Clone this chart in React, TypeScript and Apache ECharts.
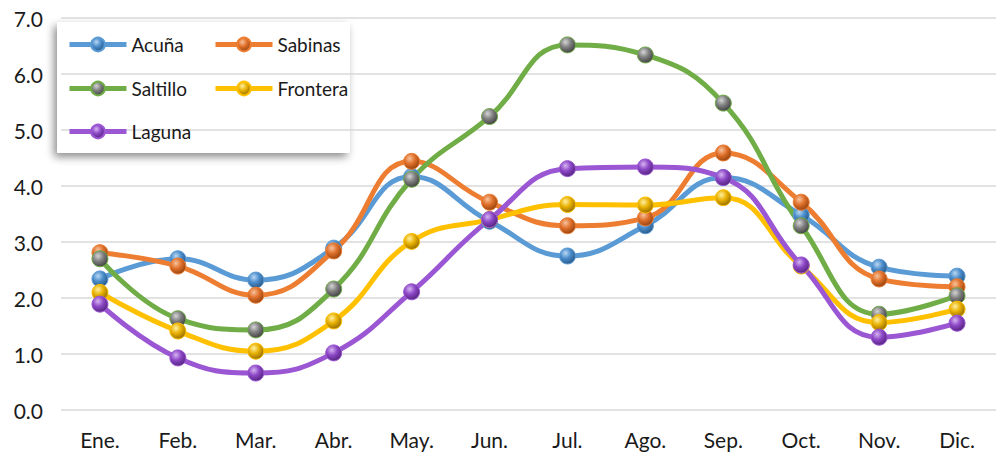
import React, { useEffect, useRef } from "react";
import * as echarts from "echarts";

const months = ["Ene.", "Feb.", "Mar.", "Abr.", "May.", "Jun.", "Jul.", "Ago.", "Sep.", "Oct.", "Nov.", "Dic."];
const acuna = [2.34, 2.7, 2.32, 2.89, 4.17, 3.37, 2.75, 3.29, 4.15, 3.48, 2.55, 2.39];
const sabinas = [2.81, 2.57, 2.05, 2.84, 4.44, 3.71, 3.29, 3.43, 4.59, 3.71, 2.34, 2.2];
const saltillo = [2.7, 1.63, 1.43, 2.16, 4.12, 5.24, 6.52, 6.34, 5.48, 3.29, 1.71, 2.04];
const frontera = [2.1, 1.41, 1.05, 1.59, 3.01, 3.4, 3.67, 3.66, 3.79, 2.57, 1.56, 1.8];
const laguna = [1.89, 0.93, 0.66, 1.02, 2.11, 3.4, 4.31, 4.34, 4.15, 2.59, 1.3, 1.55];

const FONT = "Lato, 'Open Sans', sans-serif";

function sphere(light: string, base: string, dark: string) {
  return {
    type: "radial",
    x: 0.38,
    y: 0.32,
    r: 0.75,
    colorStops: [
      { offset: 0, color: light },
      { offset: 0.45, color: base },
      { offset: 1, color: dark },
    ],
  } as any;
}

const seriesDefs = [
  { name: "Acuña", data: acuna, line: "#5B9BD5", marker: sphere("#b9d7f2", "#4a8ccb", "#24527e"), border: "#5B9BD5" },
  { name: "Sabinas", data: sabinas, line: "#ED7D31", marker: sphere("#f8c29c", "#e0702a", "#8c3d0c"), border: "#ED7D31" },
  { name: "Saltillo", data: saltillo, line: "#70AD47", marker: sphere("#d4d4d4", "#7f7f7f", "#3a3a3a"), border: "#70AD47" },
  { name: "Frontera", data: frontera, line: "#FFC000", marker: sphere("#fff0a0", "#e8b000", "#8a6500"), border: "#FFC000" },
  { name: "Laguna", data: laguna, line: "#9B57D3", marker: sphere("#d6b3f2", "#8c47c6", "#4d1f75"), border: "#9B57D3" },
];

const legendPos = [
  { left: 67, top: 35 },
  { left: 213, top: 35 },
  { left: 67, top: 79 },
  { left: 213, top: 79 },
  { left: 67, top: 122 },
];

export default function App() {
  const ref = useRef<HTMLDivElement>(null);
  useEffect(() => {
    if (!ref.current) return;
    const chart = echarts.init(ref.current, undefined, { renderer: "svg" });
    chart.setOption({
      animation: false,
      backgroundColor: "#ffffff",
      grid: { left: 61, top: 18, width: 938, height: 392, containLabel: false },
      graphic: [
        {
          type: "rect",
          z: -10,
          zlevel: 0,
          shape: { x: 57, y: 22, width: 293, height: 131 },
          style: {
            fill: "#ffffff",
            shadowBlur: 8,
            shadowOffsetX: -3,
            shadowOffsetY: 4,
            shadowColor: "rgba(0,0,0,0.45)",
          },
        },
      ],
      legend: seriesDefs.map((s, i) => ({
        data: [s.name],
        left: legendPos[i].left,
        top: legendPos[i].top,
        itemWidth: 57,
        itemHeight: 17,
        itemGap: 5,
        padding: 0,
        lineStyle: { width: 5 },
        textStyle: { fontFamily: FONT, fontSize: 19, color: "#1a1a1a" },
      })),
      xAxis: {
        type: "category",
        data: months,
        boundaryGap: true,
        axisLine: { show: false },
        axisTick: { show: false },
        axisLabel: { fontFamily: FONT, fontSize: 21, color: "#1a1a1a", margin: 19 },
      },
      yAxis: {
        type: "value",
        min: 0,
        max: 7,
        interval: 1,
        axisLine: { show: false },
        axisTick: { show: false },
        splitLine: { lineStyle: { color: "#d9d9d9", width: 1.5 } },
        axisLabel: {
          fontFamily: FONT,
          fontSize: 21,
          color: "#1a1a1a",
          margin: 18,
          formatter: (v: number) => v.toFixed(1),
        },
      },
      series: seriesDefs.map((s) => ({
        name: s.name,
        type: "line",
        data: s.data,
        smooth: 0.45,
        symbol: "circle",
        symbolSize: 16,
        showSymbol: true,
        lineStyle: { color: s.line, width: 5 },
        itemStyle: { color: s.marker, borderColor: s.border, borderWidth: 1 },
        emphasis: { disabled: true },
      })),
    });
    return () => chart.dispose();
  }, []);
  return (
    <div
      ref={ref}
      style={{ position: "fixed", left: 0, top: 0, width: 996, height: 453 }}
    />
  );
}
